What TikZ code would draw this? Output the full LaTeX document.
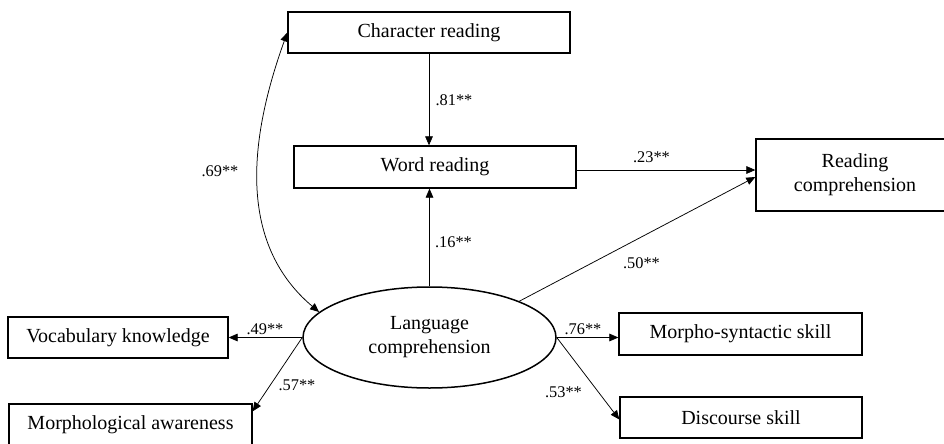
\documentclass[tikz,border=0pt]{standalone}
\usepackage{fontspec}
\setmainfont{Liberation Serif}
\usetikzlibrary{arrows.meta}
\usetikzlibrary{shapes.geometric}
\usetikzlibrary{calc}

\tikzset{
  box/.style={rectangle, draw, line width=0.8pt, inner sep=0pt, align=center,
    font=\fontsize{12}{14.4}\selectfont},
  coef/.style={inner sep=0pt, font=\fontsize{9.8}{11}\selectfont},
  link/.style={line width=0.45pt, -{Triangle[length=5.4pt,width=4.6pt]}},
  twoway/.style={line width=0.45pt, {Triangle[length=5.4pt,width=4.6pt]}-{Triangle[length=5.4pt,width=4.6pt]}}
}

\begin{document}
\begin{tikzpicture}[x=0.6pt, y=-0.6pt]
        \useasboundingbox (0,0) rectangle (944,443);
        \clip (0,0) rectangle (944,443);

        \node[box, minimum width=169.2pt, minimum height=24.6pt] (chr) at (429,32.5) {Character reading};
        \node[box, minimum width=169.2pt, minimum height=25.2pt] (word) at (435,167) {Word reading};
        \node[box, minimum width=118.8pt, minimum height=43.2pt] (readc) at (855,175) {Reading\\comprehension};

        \node[ellipse, draw, line width=0.9pt, inner sep=0pt, align=center,
            font=\fontsize{12}{14.4}\selectfont,
            minimum width=151.8pt,
            minimum height=60.6pt] (lang) at (429.5,337.5) {Language\\comprehension};

        \node[box, minimum width=132pt, minimum height=24.6pt] (vocab) at (118,337.5) {Vocabulary knowledge};
        \node[box, minimum width=145.8pt, minimum height=24.6pt] (morph) at (130.5,424.5) {Morphological awareness};
        \node[box, minimum width=145.8pt, minimum height=25.2pt] (msyn) at (740.5,334) {Morpho-syntactic skill};
        \node[box, minimum width=145.2pt, minimum height=24.6pt] (disc) at (741,417.5) {Discourse skill};

        % paths
        \draw[link] (chr.south) -- (chr.south |- word.north);
        \draw[link] (lang.north) -- (lang.north |- word.south);
        \draw[link] ($(word.east)+(0,3)$) -- ($(word.east -| readc.west)+(0,3)$);
        \draw[link] (lang.22) -- ($(readc.west)+(0,2)$);
        \draw[twoway] (chr.west) .. controls (250,136) and (236,242) .. (lang.167);
        \draw[link] (lang.west) -- (vocab.east);
        \draw[link] (lang.west) -- ($(morph.north east)+(0,8)$);
        \draw[link] (lang.east) -- (lang.east -| msyn.west);
        \draw[link] (lang.east) -- ($(disc.west)+(0,2)$);

        % coefficients
        \node[coef] (c81) at (454,100) {.81**};
        \node[coef] (c16) at (453.5,242) {.16**};
        \node[coef] (c23) at (651.5,157) {.23**};
        \node[coef] (c50) at (641.5,263) {.50**};
        \node[coef] (c69) at (220,171) {.69**};
        \node[coef] (c49) at (265,329) {.49**};
        \node[coef] (c57) at (297,385) {.57**};
        \node[coef] (c76) at (583,329) {.76**};
        \node[coef] (c53) at (563.5,392) {.53**};
\end{tikzpicture}
\end{document}
